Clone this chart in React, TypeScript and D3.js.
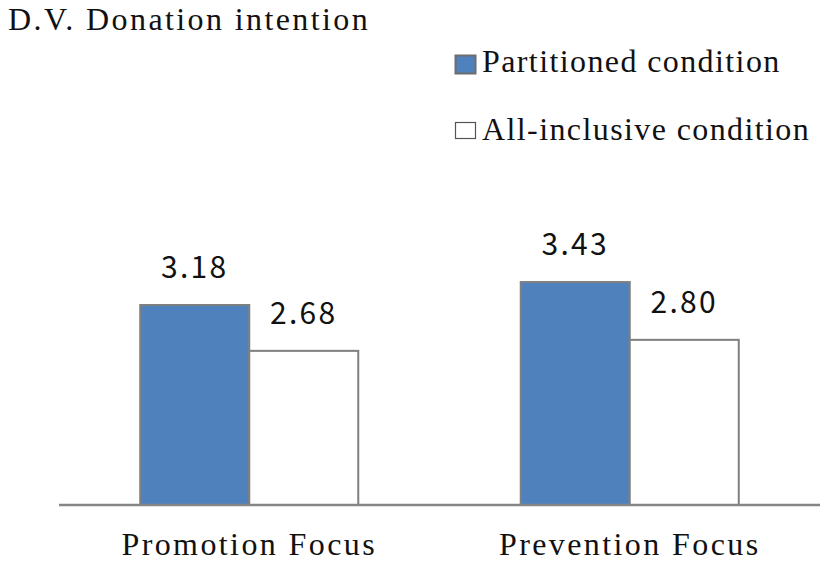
import React from "react";
import * as d3 from "d3";

const categories = ["Promotion Focus", "Prevention Focus"];
const seriesNames = ["Partitioned condition", "All-inclusive condition"];
const partitioned = [3.18, 3.43];
const allInclusive = [2.68, 2.8];
const valueLabels = [["3.18", "2.68"], ["3.43", "2.80"]];
const title = "D.V. Donation intention";

const W = 827;
const H = 562;
const serif = "'Liberation Serif', 'Times New Roman', serif";
const sans = "'Noto Sans CJK KR', 'Noto Sans', sans-serif";
const fills = ["#4F81BD", "#FFFFFF"];

export default function App() {
  const x0 = d3.scaleBand<string>().domain(categories).range([59, 820]).paddingInner(0.427).paddingOuter(0.2135);
  const x1 = d3.scaleBand<string>().domain(seriesNames).range([0, x0.bandwidth()]);
  const y = d3.scaleLinear().domain([1, 5]).range([505, 138]);
  const series = [partitioned, allInclusive];

  return (
    <svg width={W} height={H} style={{ position: "absolute", left: 0, top: 0, background: "#fff" }}>
      <text x={8} y={30} fontFamily={serif} fontSize={32} letterSpacing={2.4} fill="#111">{title}</text>
      {seriesNames.map((s, i) => (
        <g key={s}>
          <rect x={455.5} y={i === 0 ? 55.5 : 122.5} width={20} height={i === 0 ? 18 : 16}
            fill={fills[i]} stroke={i === 0 ? "#6d6d6d" : "#555"} strokeWidth={i === 0 ? 2 : 1.2} />
          <text x={482} y={i === 0 ? 72 : 140} fontFamily={serif} fontSize={32} letterSpacing={1.4} fill="#111">{s}</text>
        </g>
      ))}
      {categories.map((c, ci) => (
        <g key={c}>
          {seriesNames.map((s, si) => {
            const v = series[si][ci];
            const bx = (x0(c) as number) + (x1(s) as number);
            const by = y(v);
            return (
              <g key={s}>
                <rect x={bx} y={by} width={x1.bandwidth()} height={y(1) - by}
                  fill={fills[si]} stroke="#7f7f7f" strokeWidth={2} />
                <text x={bx + x1.bandwidth() / 2} y={by - 27} textAnchor="middle"
                  fontFamily={sans} fontSize={30} letterSpacing={2.3} fill="#111">{valueLabels[ci][si]}</text>
              </g>
            );
          })}
          <text x={(x0(c) as number) + x0.bandwidth() / 2} y={555} textAnchor="middle"
            fontFamily={serif} fontSize={32} letterSpacing={2.4} fill="#111">{c}</text>
        </g>
      ))}
      <line x1={59} x2={820} y1={y(1)} y2={y(1)} stroke="#868686" strokeWidth={2.5} />
    </svg>
  );
}
